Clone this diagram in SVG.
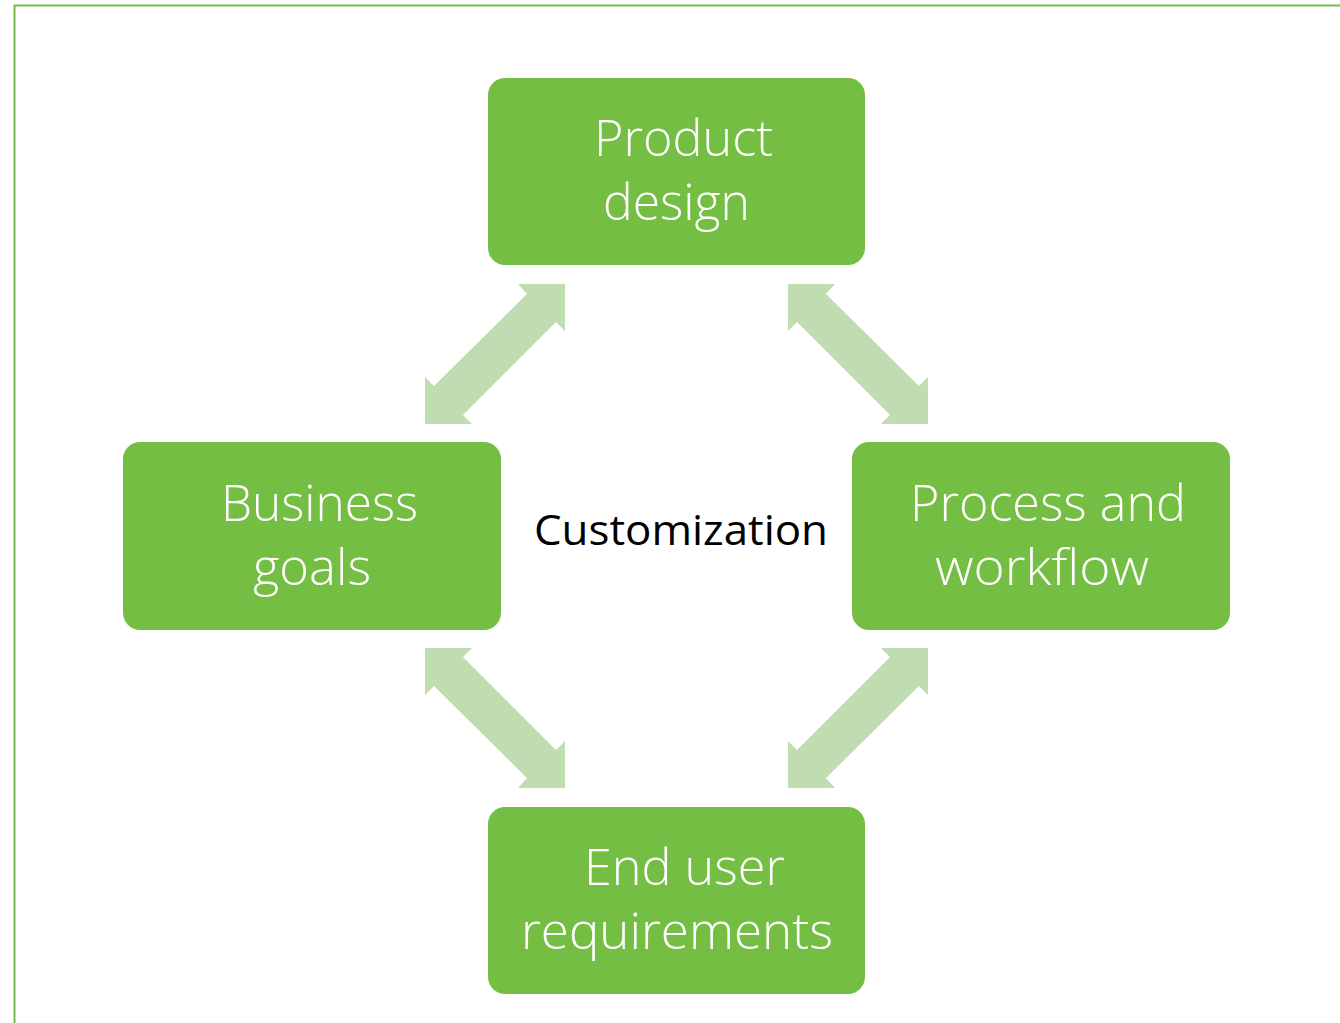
<svg xmlns="http://www.w3.org/2000/svg" width="1340" height="1023" viewBox="0 0 1340 1023">
<style>
.box{fill:#75BE44}
.arr{fill:#BFDDB1}
.t{font-family:"Open Sans","Liberation Sans",sans-serif;font-weight:300;font-size:50px;fill:#ffffff}
.c{font-family:"Open Sans","Liberation Sans",sans-serif;font-size:42px;fill:#000000}
</style>
<rect x="0" y="0" width="1340" height="1023" fill="#ffffff"/>
<path d="M14.5,1023 V5.5 H1340" fill="none" stroke="#75BE44" stroke-width="2"/>
<g id="connectors">
<polygon class="arr" points="565,284 565,331 556,322 463,415 472,424 425,424 425,377 434,386 527,294 518,284"/>
<polygon class="arr" transform="translate(1353,0) scale(-1,1)" points="565,284 565,331 556,322 463,415 472,424 425,424 425,377 434,386 527,294 518,284"/>
<polygon class="arr" transform="translate(0,1072) scale(1,-1)" points="565,284 565,331 556,322 463,415 472,424 425,424 425,377 434,386 527,294 518,284"/>
<polygon class="arr" transform="translate(1353,1072) scale(-1,-1)" points="565,284 565,331 556,322 463,415 472,424 425,424 425,377 434,386 527,294 518,284"/>
</g>
<g id="product-design">
<rect class="box" x="488" y="78" width="377" height="187" rx="17"/>
<text class="t" x="594" y="156" textLength="179" lengthAdjust="spacingAndGlyphs">Product</text>
<text class="t" x="603" y="220" textLength="147" lengthAdjust="spacingAndGlyphs">design</text>
</g>
<g id="business-goals">
<rect class="box" x="123" y="442" width="378" height="188" rx="17"/>
<text class="t" x="221" y="521" textLength="197" lengthAdjust="spacingAndGlyphs">Business</text>
<text class="t" x="253" y="585" textLength="118" lengthAdjust="spacingAndGlyphs">goals</text>
</g>
<g id="process-workflow">
<rect class="box" x="852" y="442" width="378" height="188" rx="17"/>
<text class="t" x="910" y="521" textLength="276" lengthAdjust="spacingAndGlyphs">Process and</text>
<text class="t" x="935" y="585" textLength="214" lengthAdjust="spacingAndGlyphs">workflow</text>
</g>
<g id="end-user">
<rect class="box" x="488" y="807" width="377" height="187" rx="17"/>
<text class="t" x="584" y="885" textLength="201" lengthAdjust="spacingAndGlyphs">End user</text>
<text class="t" x="521" y="949" textLength="312" lengthAdjust="spacingAndGlyphs">requirements</text>
</g>
<g id="customization">
<text class="c" x="534" y="545" textLength="294" lengthAdjust="spacingAndGlyphs">Customization</text>
</g>
</svg>
